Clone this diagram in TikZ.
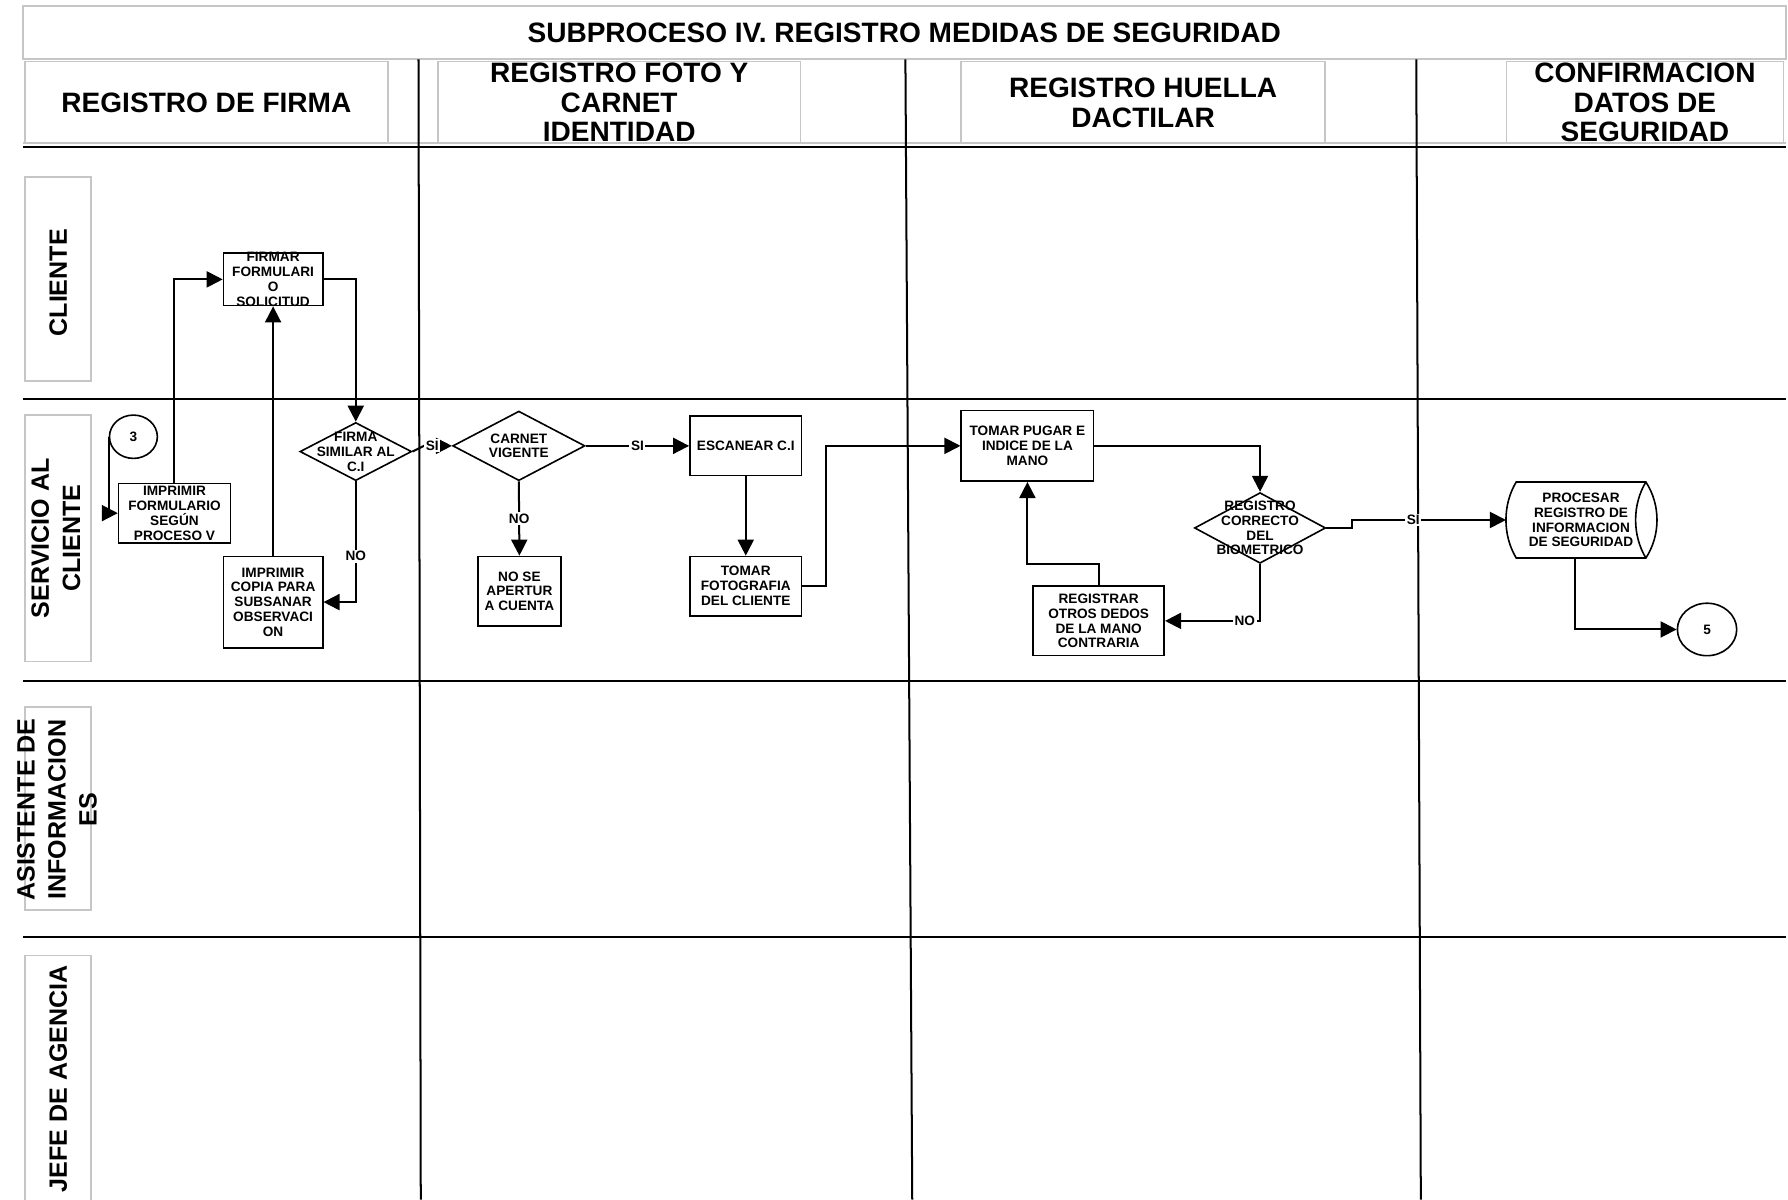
\documentclass[tikz,border=0pt]{standalone}
\usepackage{fontspec}
\setmainfont{Liberation Sans}
\usetikzlibrary{arrows.meta, shapes.geometric}

\tikzset{
  grayframe/.style={draw=gray!45, line width=0.8pt, fill=white},
  headtext/.style={grayframe, align=center, inner sep=0pt, font=\fontsize{14}{14.7}\selectfont\bfseries},
  lanetext/.style={rotate=90, align=center, inner sep=0pt, font=\fontsize{12.5}{15.5}\selectfont\bfseries},
  boxtext/.style={align=center, inner sep=0pt, font=\fontsize{6.8}{7.4}\selectfont\bfseries},
  process/.style={draw, line width=0.8pt, fill=white, boxtext},
  decision/.style={diamond, draw, line width=0.8pt, fill=white, inner sep=0pt},
  connector/.style={ellipse, draw, line width=0.8pt, fill=white, boxtext},
  lane/.style={line width=1pt},
  flow/.style={line width=1pt, -{Triangle[length=8pt, width=8pt]}},
  answer/.style={fill=white, boxtext, inner sep=0.8pt}
}

\begin{document}
\begin{tikzpicture}[x=0.2mm, y=-0.2mm]
\useasboundingbox (0,0) rectangle (1568,1052);

% title and column heads
\node[headtext, minimum width=309.2mm, minimum height=9.4mm] (title) at (793,28.5) {SUBPROCESO IV. REGISTRO MEDIDAS DE SEGURIDAD};
\node[headtext, minimum width=63.6mm, minimum height=14.4mm] (hFirma) at (181,90) {REGISTRO DE FIRMA};
\node[headtext, minimum width=63.6mm, minimum height=14.4mm] (hFoto) at (543,90) {REGISTRO FOTO Y\\CARNET\\IDENTIDAD};
\node[headtext, minimum width=63.8mm, minimum height=14.4mm] (hHuella) at (1002.5,90) {REGISTRO HUELLA\\DACTILAR};
\node[headtext, minimum width=48.6mm, minimum height=14.4mm] (hConf) at (1442.5,90) {CONFIRMACION\\DATOS DE\\SEGURIDAD};
\draw[gray!45, line width=0.8pt] (20,125.5) -- (1566,125.5);
\draw[lane] (20,128.5) -- (1566,128.5);

% lanes
\draw[lane] (367,52) -- (369,1052);
\draw[lane] (794,52) -- (800,1052);
\draw[lane] (1242,52) -- (1246,1052);
\draw[lane] (20,350) -- (1566,350);
\draw[lane] (20,597) -- (1566,597);
\draw[lane] (20,822) -- (1566,822);

\draw[grayframe] (22,155) rectangle (80,334);
\draw[grayframe] (22,364) rectangle (80,580);
\draw[grayframe] (22,620) rectangle (80,798);
\draw[grayframe] (22,838) rectangle (80,1062);
\node[lanetext] (lCliente) at (51,248) {CLIENTE};
\node[lanetext] (lServicio) at (49,472) {SERVICIO AL\\CLIENTE};
\node[lanetext] (lAsistente) at (50,710) {ASISTENTE DE\\INFORMACION\\ES};
\node[lanetext] (lJefe) at (51,946) {JEFE DE AGENCIA};

% registro de firma
\node[connector, minimum width=8.4mm, minimum height=7.6mm] (c3) at (117,383) {3};
\node[process, minimum width=19.6mm, minimum height=10.4mm] (imprForm) at (153,450) {IMPRIMIR\\FORMULARIO\\SEGÚN\\PROCESO V};
\node[process, minimum width=17.4mm, minimum height=9.2mm,
      label={[boxtext]center:{FIRMAR\\FORMULARI\\O\\SOLICITUD}}] (firmar) at (239.5,245) {};
\node[decision, minimum width=19.6mm, minimum height=10.2mm,
      label={[boxtext]center:{FIRMA\\SIMILAR AL\\C.I}}] (firma) at (312,396) {};
\node[process, minimum width=17.4mm, minimum height=16mm] (imprCopia) at (239.5,528) {IMPRIMIR\\COPIA PARA\\SUBSANAR\\OBSERVACI\\ON};

% registro foto y carnet
\node[decision, minimum width=23.2mm, minimum height=12.2mm,
      label={[boxtext]center:{CARNET\\VIGENTE}}] (carnet) at (455,391) {};
\node[process, minimum width=14.6mm, minimum height=12.2mm] (noApertura) at (455.5,518.5) {NO SE\\APERTUR\\A CUENTA};
\node[process, minimum width=19.6mm, minimum height=10.4mm] (escanear) at (654,391) {ESCANEAR C.I};
\node[process, minimum width=19.6mm, minimum height=10.4mm] (tomarFoto) at (654,514) {TOMAR\\FOTOGRAFIA\\DEL CLIENTE};

% registro huella
\node[process, minimum width=23.2mm, minimum height=12.4mm] (tomarPugar) at (901,391) {TOMAR PUGAR E\\INDICE DE LA\\MANO};
\node[decision, minimum width=23mm, minimum height=12.4mm,
      label={[boxtext]center:{REGISTRO\\CORRECTO\\DEL\\BIOMETRICO}}] (biom) at (1105,463) {};
\node[process, minimum width=23mm, minimum height=12.2mm] (registrar) at (963.5,544.5) {REGISTRAR\\OTROS DEDOS\\DE LA MANO\\CONTRARIA};

% confirmacion
\node[boxtext, minimum width=22.6mm, minimum height=13.2mm] (procesar) at (1386.5,456) {};
\draw[line width=0.8pt, fill=white] (procesar.north west) -- (procesar.north east)
  .. controls +(13,20) and +(13,-20) .. (procesar.south east) -- (procesar.south west)
  .. controls +(-12,-20) and +(-12,20) .. (procesar.north west) -- cycle;
\draw[line width=0.8pt] (procesar.north east) .. controls +(-12,20) and +(-12,-20) .. (procesar.south east);
\node[boxtext] (procesarT) at (procesar) {PROCESAR\\REGISTRO DE\\INFORMACION\\DE SEGURIDAD};
\node[connector, minimum width=10.4mm, minimum height=9.2mm] (c5) at (1497,552) {5};

% flujo
\draw[flow] (c3.west) |- (imprForm.west);
\draw[flow] (imprForm.north) |- (firmar.west);
\draw[flow] (firmar.east) -| (firma.north);
\draw[flow] (firma.south) |- node[answer, pos=0.31] (no1) {NO} (imprCopia.east);
\draw[flow] (imprCopia.north) -- (firmar.south);
\draw[flow] (firma.east) -- ++(10,-5) -- node[answer, pos=0.3] (si1) {SI} (carnet.west);
\draw[flow] (carnet.east) -- node[answer] (si2) {SI} (escanear.west);
\draw[flow] (carnet.south) -- node[answer] (no2) {NO} (noApertura.north);
\draw[flow] (escanear.south) -- (tomarFoto.north);
\draw[flow] (tomarFoto.east) -- ++(21,0) |- (tomarPugar.west);
\draw[flow] (tomarPugar.east) -| (biom.north);
\draw[flow] (biom.south) |- node[answer, pos=0.58] (no3) {NO} (registrar.east);
\draw[flow] (registrar.north) -- ++(0,-19) -| (tomarPugar.south);
\draw[flow] (biom.east) -- ++(22,0) |- node[answer, pos=0.7] (si3) {SI} ([xshift=-1.8mm]procesar.west);
\draw[flow] ([xshift=-1mm]procesar.south) |- (c5.west);

\end{tikzpicture}
\end{document}
